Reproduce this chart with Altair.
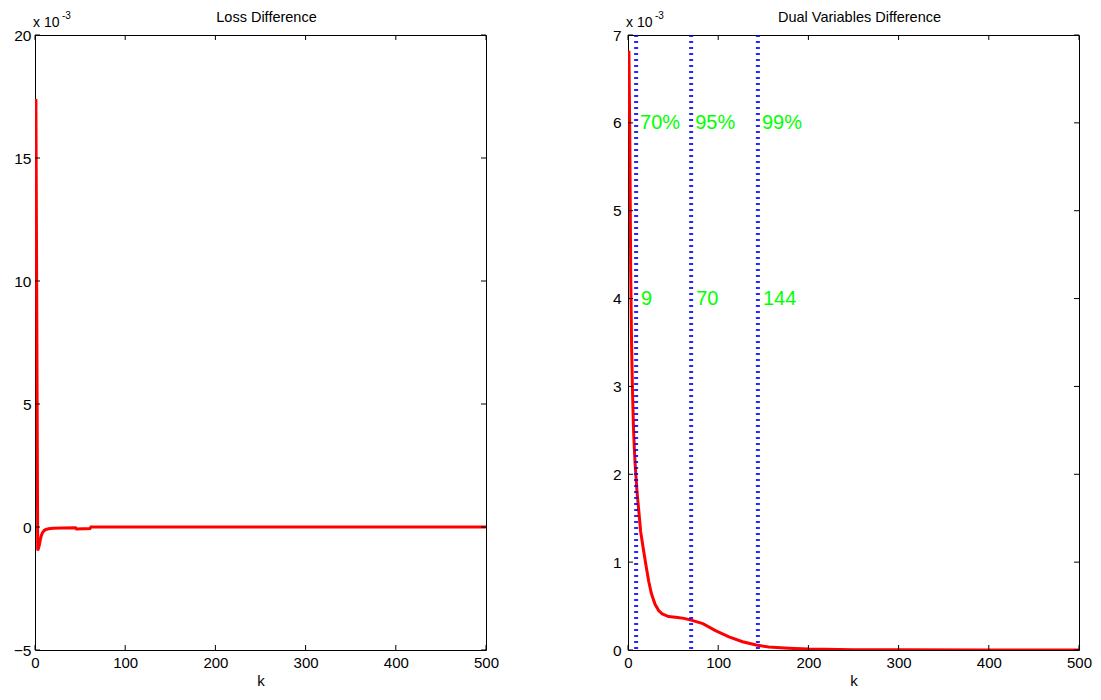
import altair as alt
import pandas as pd

FONT = "Liberation Sans"

# ---- data (values in units of 1e-3) ----
loss_k = [1, 2, 3, 4, 5, 6, 7, 8, 10, 12, 15, 20, 30, 45, 46, 61, 62, 100, 200, 300, 400, 500]
loss_v = [17.4, 8.4, -0.95, -0.85, -0.7, -0.5, -0.35, -0.25, -0.15, -0.1, -0.07, -0.05,
          -0.04, -0.03, -0.08, -0.06, 0, 0, 0, 0, 0, 0]

dual_k = [1, 2, 3, 4, 5, 6, 7, 8, 9, 10, 12, 14, 17, 20, 23, 26, 30, 34, 38, 45, 55, 62,
          70, 83, 97, 112, 127, 142, 156, 178, 200, 250, 300, 400, 500]
dual_v = [6.82, 5.85, 4.3, 3.45, 2.95, 2.55, 2.3, 2.1, 1.95, 1.8, 1.58, 1.35, 1.15, 0.96,
          0.78, 0.64, 0.52, 0.45, 0.41, 0.38, 0.37, 0.36, 0.34, 0.30, 0.22, 0.15, 0.094,
          0.057, 0.034, 0.02, 0.01, 0.004, 0.002, 0.001, 0.0005]

marker_k = [9, 70, 144]
marker_pct = ["70%", "95%", "99%"]
marker_lbl = ["9", "70", "144"]
pct_y = 6
lbl_y = 4

x_ticks = [0, 100, 200, 300, 400, 500]
loss_y_ticks = [-5, 0, 5, 10, 15, 20]
dual_y_ticks = [0, 1, 2, 3, 4, 5, 6, 7]

W, H = 451, 615


def panel(k, v, ydomain, yticks, title, ylabpad, extra=None):
    xs = alt.Scale(domain=[0, 500], nice=False, zero=False)
    ys = alt.Scale(domain=ydomain, nice=False, zero=False)
    xax = alt.Axis(values=x_ticks, title="k", labelFlush=False, labelPadding=5,
                   titlePadding=3, format="d", grid=False, ticks=False, domain=False,
                   labelFont=FONT, labelFontSize=15, labelColor="black",
                   titleFont=FONT, titleFontSize=15, titleFontWeight="normal",
                   titleColor="black", labelOverlap=False)
    yax = alt.Axis(values=yticks, title=None, labelPadding=ylabpad, format="d",
                   grid=False, ticks=False, domain=False, labelFont=FONT,
                   labelFontSize=15.5, labelColor="black", labelOverlap=False)

    def X(f):
        return alt.X(f, scale=xs, axis=xax)

    def Y(f):
        return alt.Y(f, scale=ys, axis=yax)

    df = pd.DataFrame({"k": k, "v": v})
    line = alt.Chart(df).mark_line(color="#ff0000", strokeWidth=3, clip=True).encode(
        x=X("k:Q"), y=Y("v:Q"))
    xt = pd.DataFrame({"t": x_ticks})
    yt = pd.DataFrame({"t": yticks})
    tb = alt.Chart(xt).mark_rule(color="black", strokeWidth=1).encode(
        x=X("t:Q"), y=alt.value(H - 5), y2=alt.value(H))
    tt = alt.Chart(xt).mark_rule(color="black", strokeWidth=1).encode(
        x=X("t:Q"), y=alt.value(0), y2=alt.value(5))
    tl = alt.Chart(yt).mark_rule(color="black", strokeWidth=1).encode(
        y=Y("t:Q"), x=alt.value(0), x2=alt.value(5))
    tr = alt.Chart(yt).mark_rule(color="black", strokeWidth=1).encode(
        y=Y("t:Q"), x=alt.value(W - 5), x2=alt.value(W))
    e1 = alt.Chart(pd.DataFrame({"t": ["x 10"]})).mark_text(
        align="left", baseline="alphabetic", fontSize=14, font=FONT, color="black").encode(
        x=alt.value(-2), y=alt.value(-8), text="t:N")
    e2 = alt.Chart(pd.DataFrame({"t": ["-3"]})).mark_text(
        align="left", baseline="alphabetic", fontSize=10, font=FONT, color="black").encode(
        x=alt.value(27), y=alt.value(-16), text="t:N")
    tx = alt.Chart(pd.DataFrame({"t": [title]})).mark_text(
        align="center", baseline="alphabetic", fontSize=14.5, font=FONT, color="black").encode(
        x=alt.value(W / 2 + 6), y=alt.value(-13), text="t:N")
    layers = [line]
    if extra:
        layers += extra(X, Y)
    layers += [tb, tt, tl, tr, e1, e2, tx]
    return alt.layer(*layers).properties(width=W, height=H)


def markers(X, Y):
    mdf = pd.DataFrame({"k": marker_k})
    rules = alt.Chart(mdf).mark_rule(color="#0000ff", strokeWidth=4, strokeDash=[2, 4],
                                     opacity=0.85).encode(
        x=X("k:Q"), y=alt.value(0), y2=alt.value(H))
    pdf = pd.DataFrame({"k": marker_k, "y": [pct_y] * 3, "t": marker_pct})
    ldf = pd.DataFrame({"k": marker_k, "y": [lbl_y] * 3, "t": marker_lbl})
    pct = alt.Chart(pdf).mark_text(align="left", baseline="middle", dx=4, fontSize=20,
                                   font=FONT, color="#00ff00").encode(
        x=X("k:Q"), y=Y("y:Q"), text="t:N")
    lbl = alt.Chart(ldf).mark_text(align="left", baseline="middle", dx=5, fontSize=20,
                                   font=FONT, color="#00ff00").encode(
        x=X("k:Q"), y=Y("y:Q"), text="t:N")
    return [rules, pct, lbl]


left = panel(loss_k, loss_v, [-5, 20], loss_y_ticks, "Loss Difference", 4)
right = panel(dual_k, dual_v, [0, 7], dual_y_ticks, "Dual Variables Difference", 7, markers)

chart = alt.hconcat(left, right, spacing=142, bounds="flush").properties(
    padding={"left": 4, "top": 1, "right": 0, "bottom": 0}, background="white"
).configure_view(stroke="black", strokeWidth=1)

chart.save("out.html", embed_options={"renderer": "svg", "actions": False})
